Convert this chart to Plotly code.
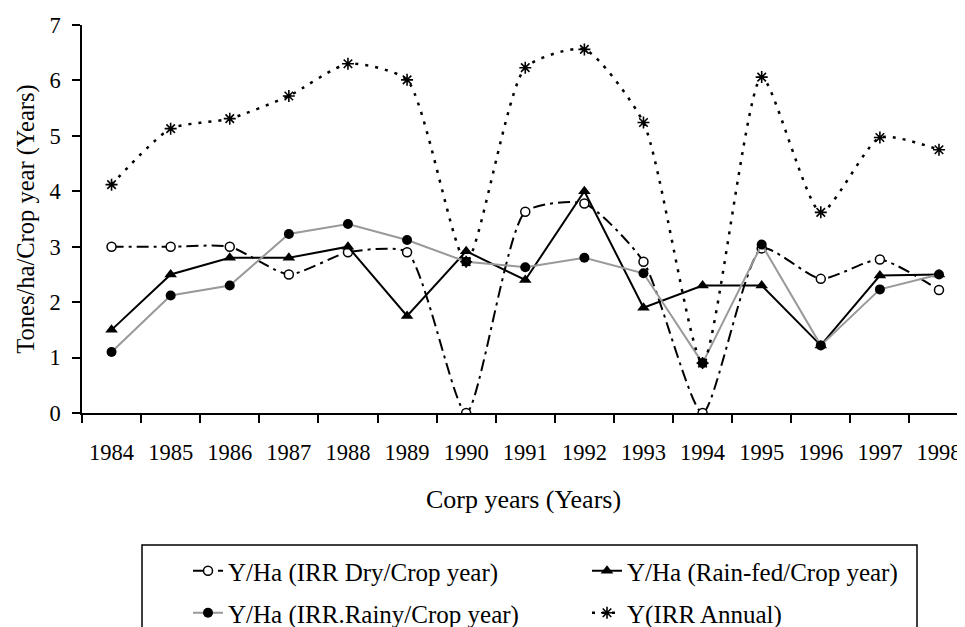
import plotly.graph_objects as go

years = ["1984", "1985", "1986", "1987", "1988", "1989", "1990", "1991",
         "1992", "1993", "1994", "1995", "1996", "1997", "1998"]
irr_dry = [3.0, 3.0, 3.0, 2.5, 2.9, 2.9, 0.0, 3.63, 3.78, 2.73, 0.0, 2.97, 2.42, 2.77, 2.22]
rain_fed = [1.5, 2.5, 2.8, 2.8, 3.0, 1.75, 2.92, 2.4, 4.0, 1.9, 2.3, 2.3, 1.22, 2.48, 2.5]
irr_rainy = [1.1, 2.12, 2.3, 3.23, 3.41, 3.12, 2.73, 2.63, 2.8, 2.52, 0.9, 3.04, 1.22, 2.23, 2.5]
irr_annual = [4.12, 5.13, 5.31, 5.72, 6.3, 6.01, 2.73, 6.23, 6.56, 5.24, 0.9, 6.06, 3.62, 4.97, 4.75]

FONT = "Liberation Serif, Times New Roman, serif"
FS_TICK = 22.5
FS_XTITLE = 26
FS_YTITLE = 24.5
FS_LEG = 25

# the page body has an 8px margin: figure coords = screen coords - OFF
OFF = 8
FIG_W, FIG_H = 965 - OFF, 627 - OFF

# plot area in screen pixels
L, R, T, B = 82, 965, 25, 413
W_PLOT = R - L
H_PLOT = B - T


def px_x(p):
    return (p - L) / W_PLOT


def px_y(p):
    return (B - p) / H_PLOT


fig = go.Figure()

fig.add_trace(go.Scatter(
    x=years, y=irr_dry, name="Y/Ha (IRR Dry/Crop year)", mode="lines+markers",
    line=dict(color="black", width=2, dash="12px,5px,3px,5px", shape="spline", smoothing=0.6),
    marker=dict(symbol="circle", size=9, color="white", line=dict(color="black", width=1.5)),
    legend="legend"))

fig.add_trace(go.Scatter(
    x=years, y=rain_fed, name="Y/Ha (Rain-fed/Crop year)", mode="lines+markers",
    line=dict(color="black", width=2),
    marker=dict(symbol="triangle-up", size=11, color="black"),
    legend="legend2"))

fig.add_trace(go.Scatter(
    x=years, y=irr_rainy, name="Y/Ha (IRR.Rainy/Crop year)", mode="lines+markers",
    line=dict(color="#999999", width=2),
    marker=dict(symbol="circle", size=10, color="black"),
    legend="legend3"))

fig.add_trace(go.Scatter(
    x=years, y=irr_annual, name="Y(IRR Annual)", mode="lines+markers",
    line=dict(color="black", width=2.5, dash="3px,7px", shape="spline", smoothing=0.6),
    marker=dict(symbol="asterisk-open", size=10, color="black", line=dict(color="black", width=1.6)),
    legend="legend4"))

leg_common = dict(font=dict(family=FONT, size=FS_LEG, color="black"),
                  bgcolor="rgba(0,0,0,0)", borderwidth=0,
                  xanchor="left", yanchor="middle", itemclick=False)

row1, row2 = 571, 613
col1, col2 = 188, 587

fig.update_layout(
    width=FIG_W, height=FIG_H,
    margin=dict(l=L - OFF, r=965 - R, t=T - OFF, b=(FIG_H + OFF) - B, autoexpand=False),
    paper_bgcolor="white", plot_bgcolor="white",
    font=dict(family=FONT, size=FS_TICK, color="black"),
    showlegend=True,
    legend=dict(x=px_x(col1), y=px_y(row1), **leg_common),
    legend2=dict(x=px_x(col2), y=px_y(row1), **leg_common),
    legend3=dict(x=px_x(col1), y=px_y(row2), **leg_common),
    legend4=dict(x=px_x(col2), y=px_y(row2), **leg_common),
    xaxis=dict(
        type="category", range=[-0.5, 14.44],
        showline=True, linecolor="black", linewidth=1.5,
        ticks="outside", tickson="boundaries", ticklen=8, tickwidth=1.5, tickcolor="black",
        showgrid=False, zeroline=False,
        tickfont=dict(family=FONT, size=FS_TICK, color="black"),
        ticklabelstandoff=18,
        title=dict(text="Corp years (Years)", font=dict(family=FONT, size=FS_XTITLE), standoff=26),
    ),
    yaxis=dict(
        range=[0, 7], dtick=1,
        showline=True, linecolor="black", linewidth=1.5,
        ticks="outside", ticklen=8, tickwidth=1.5, tickcolor="black",
        showgrid=False, zeroline=False,
        tickfont=dict(family=FONT, size=FS_TICK, color="black"),
        ticklabelstandoff=7,
        title=dict(text="Tones/ha/Crop year (Years)", font=dict(family=FONT, size=FS_YTITLE), standoff=8),
    ),
    shapes=[dict(type="rect", xref="paper", yref="paper",
                 x0=px_x(142), x1=px_x(917), y0=px_y(545), y1=px_y(660),
                 line=dict(color="black", width=1.5), fillcolor="rgba(0,0,0,0)", layer="above")],
)

fig.write_html("out.html")
